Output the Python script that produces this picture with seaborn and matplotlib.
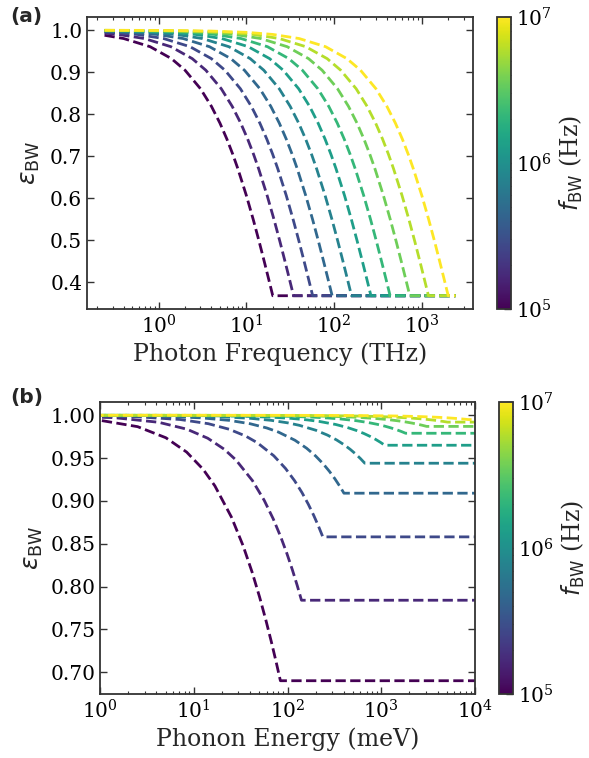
import numpy as np
import matplotlib
matplotlib.use("Agg")
import matplotlib.pyplot as plt
import seaborn as sns
from matplotlib.colors import LogNorm
from matplotlib.cm import ScalarMappable

# ---------------- data ----------------
# bandwidth frequencies f_BW (Hz) of the curves (colour scale)
f_bw = [1.00e5, 1.67e5, 2.78e5, 4.64e5, 7.74e5, 1.29e6, 2.15e6, 3.59e6, 5.99e6, 1.00e7]

# panel (a): photon frequency range (THz) and cut-off frequency per curve (THz)
freq_min_thz = 0.2418
freq_max_thz = 2418.0
cutoff_a_thz = [20.0, 34.5, 57.0, 95.0, 158.0, 263.0, 435.0, 730.0, 1190.0, 2000.0]
# efficiency at the first sampled frequency of each curve
eps_a_start = [0.988, 0.993, 0.9958, 0.9975, 0.9985, 0.9991, 0.9994, 0.9997, 0.9998, 0.9999]
# read profile: efficiency vs (frequency / cut-off)
ratio_a = [0.0002, 0.0005, 0.001, 0.002, 0.005, 0.01, 0.02, 0.04, 0.07, 0.1, 0.15,
           0.2, 0.25, 0.3, 0.35, 0.4, 0.5, 0.6, 0.7, 0.8, 0.9, 1.0]
eps_a_profile = [0.9998, 0.9995, 0.9990, 0.9980, 0.9950, 0.9900, 0.9802, 0.9608, 0.9324,
                 0.9048, 0.8607, 0.8187, 0.7788, 0.7408, 0.7047, 0.6703, 0.6065, 0.5488,
                 0.4966, 0.4493, 0.4066, 0.3679]

# panel (b): phonon energy range (meV), cut-off energies (meV) and plateau values
energy_min_mev = 1.0
energy_max_mev = 1.0e4
cutoff_b_mev = [84.0, 141.0, 238.0, 400.0, 668.0, 1090.0, 1820.0, 3050.0, 5100.0, 8500.0]
floor_b = [0.690, 0.784, 0.858, 0.909, 0.944, 0.965, 0.979, 0.987, 0.992, 0.995]
ratio_b = [0.0001, 0.001, 0.01, 0.03, 0.06, 0.1, 0.15, 0.2, 0.3, 0.4, 0.5, 0.6, 0.7, 0.8, 0.9, 1.0]
eps_b = [
    [0.99996, 0.99955, 0.99553, 0.98670, 0.97375, 0.95700, 0.93686, 0.91755, 0.88122, 0.84766, 0.81657, 0.78767, 0.76075, 0.73560, 0.71207, 0.690],
    [0.99997, 0.99972, 0.99725, 0.99180, 0.98374, 0.97319, 0.96031, 0.94778, 0.92366, 0.90073, 0.87892, 0.85815, 0.83832, 0.81940, 0.80131, 0.784],
    [0.99998, 0.99983, 0.99835, 0.99506, 0.99017, 0.98372, 0.97578, 0.96796, 0.95270, 0.93791, 0.92357, 0.90967, 0.89618, 0.88308, 0.87036, 0.858],
    [0.99999, 0.99990, 0.99900, 0.99701, 0.99403, 0.99009, 0.98521, 0.98037, 0.97084, 0.96150, 0.95233, 0.94334, 0.93451, 0.92585, 0.91735, 0.909],
    [0.99999, 0.99994, 0.99941, 0.99822, 0.99645, 0.99410, 0.99118, 0.98828, 0.98252, 0.97682, 0.97119, 0.96563, 0.96013, 0.95469, 0.94932, 0.944],
    [1.00000, 0.99996, 0.99964, 0.99891, 0.99783, 0.99639, 0.99459, 0.99280, 0.98924, 0.98570, 0.98219, 0.97870, 0.97524, 0.97180, 0.96839, 0.965],
    [1.00000, 0.99998, 0.99979, 0.99936, 0.99871, 0.99786, 0.99679, 0.99573, 0.99361, 0.99149, 0.98939, 0.98729, 0.98521, 0.98313, 0.98106, 0.979],
    [1.00000, 0.99999, 0.99987, 0.99961, 0.99921, 0.99869, 0.99803, 0.99737, 0.99607, 0.99476, 0.99346, 0.99216, 0.99086, 0.98957, 0.98829, 0.987],
    [1.00000, 0.99999, 0.99992, 0.99976, 0.99952, 0.99919, 0.99879, 0.99839, 0.99759, 0.99679, 0.99599, 0.99519, 0.99439, 0.99359, 0.99280, 0.992],
    [1.00000, 1.00000, 0.99995, 0.99985, 0.99970, 0.99950, 0.99925, 0.99900, 0.99849, 0.99799, 0.99749, 0.99699, 0.99649, 0.99600, 0.99550, 0.995],
]

# ---------------- style ----------------
sns.set_theme(style="ticks")
plt.rcParams.update({
    "font.family": ["DejaVu Serif"],
    "mathtext.fontset": "dejavusans",
    "axes.edgecolor": "#333333",
    "axes.linewidth": 1.3,
    "xtick.color": "#333333",
    "ytick.color": "#333333",
    "xtick.labelcolor": "black",
    "ytick.labelcolor": "black",
    "xtick.direction": "in",
    "ytick.direction": "in",
    "xtick.major.size": 5,
    "ytick.major.size": 5,
    "xtick.minor.size": 2.5,
    "ytick.minor.size": 2.5,
    "xtick.major.width": 1.0,
    "ytick.major.width": 1.0,
    "xtick.minor.width": 0.8,
    "ytick.minor.width": 0.8,
    "xtick.labelsize": 14.5,
    "ytick.labelsize": 14.5,
    "axes.labelsize": 17,
})

W, H = 589, 758
fig = plt.figure(figsize=(W / 100, H / 100), dpi=100)

def frac(l, t, r, b):
    return [l / W, 1 - b / H, (r - l) / W, (b - t) / H]

ax_a = fig.add_axes(frac(87, 17, 473, 309))
cax_a = fig.add_axes(frac(497, 17, 511, 309))
ax_b = fig.add_axes(frac(100, 402, 475, 694))
cax_b = fig.add_axes(frac(499, 402, 513, 694))

norm = LogNorm(vmin=1e5, vmax=1e7)
cmap = plt.get_cmap("viridis")
lw = 2.0

# panel (a)
for k, f in enumerate(f_bw):
    c = cutoff_a_thz[k]
    xs = [freq_min_thz]
    ys = [eps_a_start[k]]
    for r, e in zip(ratio_a, eps_a_profile):
        if r * c > freq_min_thz:
            xs.append(r * c)
            ys.append(e)
    xs.append(freq_max_thz)
    ys.append(eps_a_profile[-1])
    sns.lineplot(x=np.array(xs), y=np.array(ys), ax=ax_a, color=cmap(norm(f)),
                 linestyle="--", linewidth=lw, sort=False, estimator=None)

ax_a.set_xscale("log")
ax_a.set_yticks([0.4, 0.5, 0.6, 0.7, 0.8, 0.9, 1.0])
ax_a.set_xlabel("Photon Frequency (THz)")
ax_a.set_ylabel(r"$\varepsilon_{\rm BW}$", fontsize=18, labelpad=6)

# panel (b)
for k, f in enumerate(f_bw):
    c = cutoff_b_mev[k]
    xs = [r * c for r in ratio_b] + [energy_max_mev]
    ys = list(eps_b[k]) + [floor_b[k]]
    sns.lineplot(x=np.array(xs), y=np.array(ys), ax=ax_b, color=cmap(norm(f)),
                 linestyle="--", linewidth=lw, sort=False, estimator=None)

ax_b.set_xscale("log")
ax_b.set_xlim(energy_min_mev, energy_max_mev)
ax_b.set_yticks([0.70, 0.75, 0.80, 0.85, 0.90, 0.95, 1.00])
ax_b.yaxis.set_major_formatter(matplotlib.ticker.FormatStrFormatter("%.2f"))
ax_b.set_xlabel("Phonon Energy (meV)")
ax_b.set_ylabel(r"$\varepsilon_{\rm BW}$", fontsize=18, labelpad=4)

for ax in (ax_a, ax_b):
    ax.tick_params(which="both", top=True, right=True, direction="in")
    for s in ax.spines.values():
        s.set_visible(True)

for cax in (cax_a, cax_b):
    sm = ScalarMappable(norm=norm, cmap=cmap)
    cb = fig.colorbar(sm, cax=cax)
    cb.set_label(r"$f_{\rm BW}$ (Hz)", fontsize=17)
    cb.outline.set_edgecolor("#333333")
    cax.tick_params(which="both", direction="in", labelsize=14.5)

fig.text(10 / W, 1 - 7 / H, "(a)", fontsize=14.5, fontweight="bold",
         family=["DejaVu Sans"], va="top", ha="left")
fig.text(10 / W, 1 - 388 / H, "(b)", fontsize=14.5, fontweight="bold",
         family=["DejaVu Sans"], va="top", ha="left")

fig.savefig("out.png", dpi=100)
